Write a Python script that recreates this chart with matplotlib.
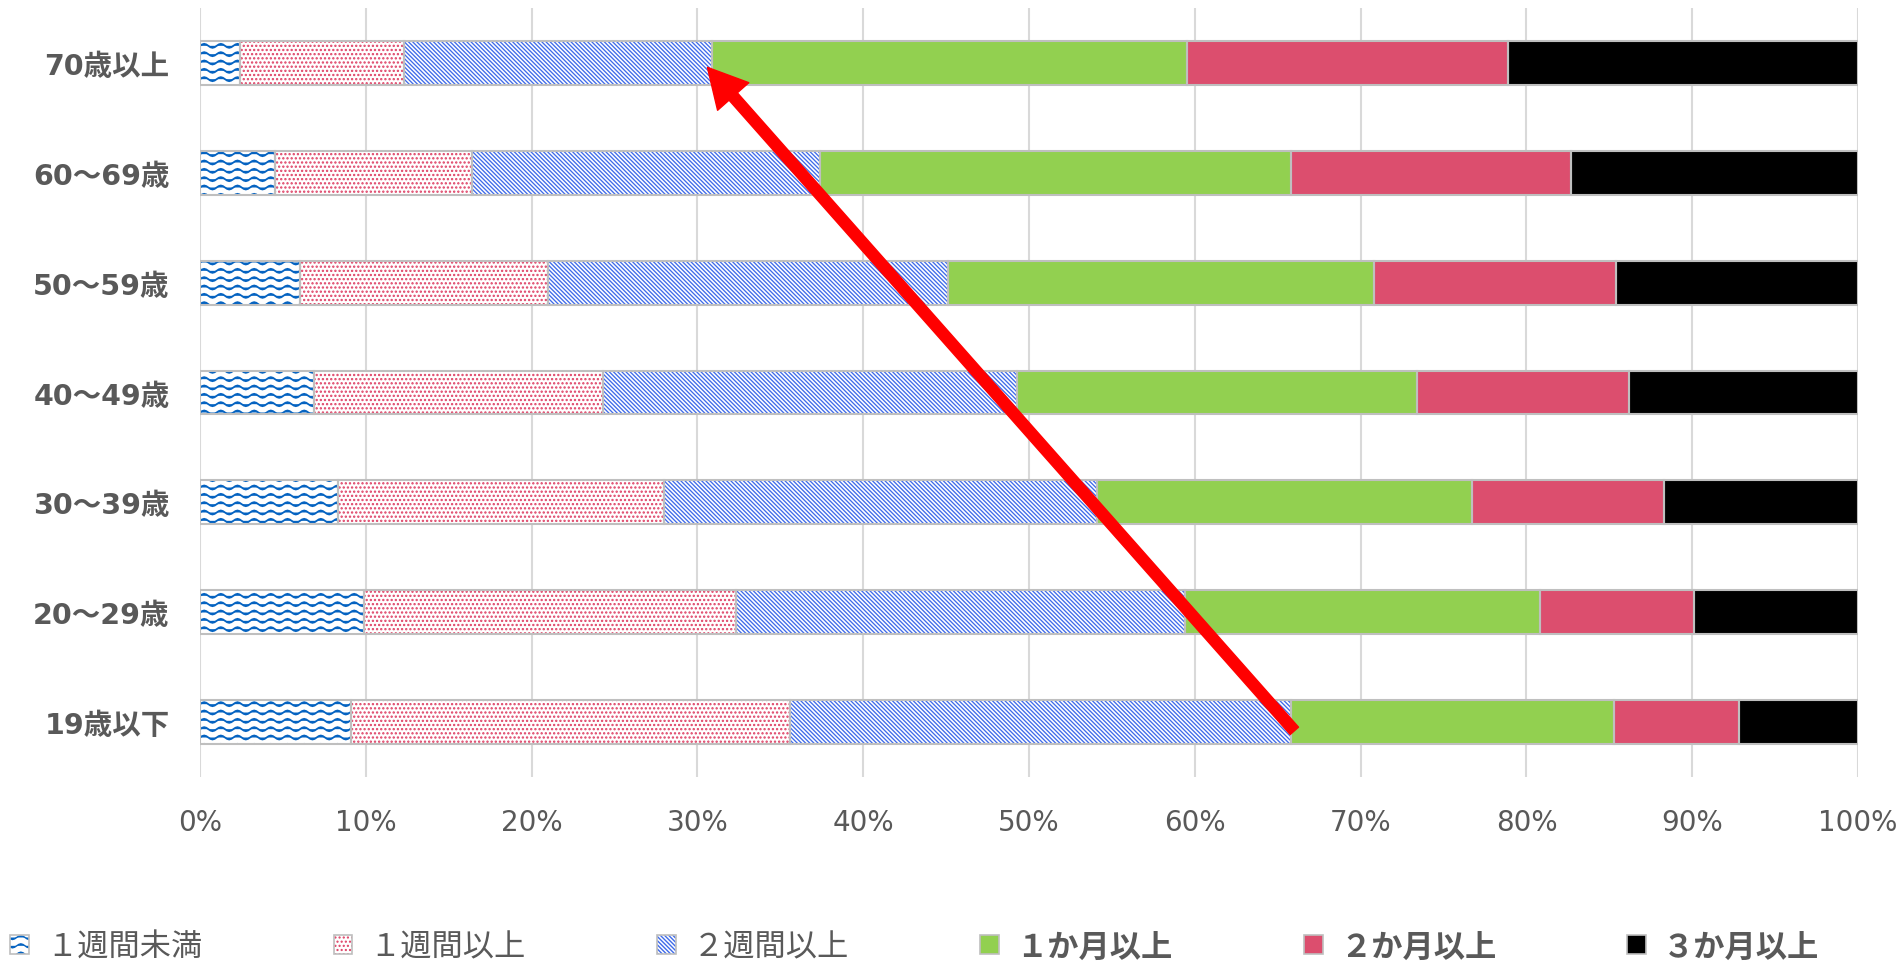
import numpy as np
import matplotlib
matplotlib.use('Agg')
import matplotlib.pyplot as plt
from matplotlib import hatch as mhatch
from matplotlib.path import Path
from matplotlib.patches import Patch

# share of each duration, per age group (bottom to top), %
ages = ['19歳以下', '20～29歳', '30～39歳', '40～49歳', '50～59歳', '60～69歳', '70歳以上']
series = ['１週間未満', '１週間以上', '２週間以上', '１か月以上', '２か月以上', '３か月以上']
w1_under = [9.1, 9.9, 8.3, 6.9, 6.0, 4.5, 2.4]
w1_over = [26.5, 22.4, 19.7, 17.4, 15.0, 11.9, 9.9]
w2_over = [30.2, 27.1, 26.1, 25.0, 24.1, 21.0, 18.6]
m1_over = [19.5, 21.4, 22.6, 24.1, 25.7, 28.4, 28.6]
m2_over = [7.5, 9.3, 11.6, 12.8, 14.6, 16.9, 19.4]
m3_over = [7.2, 9.9, 11.7, 13.8, 14.6, 17.3, 21.1]
xticks = [0, 10, 20, 30, 40, 50, 60, 70, 80, 90, 100]

# arrow: from end of 2週間以上 (19歳以下) to end of 2週間以上 (70歳以上)
arrow_from = (66.0, -0.08)
arrow_to = (30.6, 5.96)


# wavy hatch (takes the place of the 'O' pattern)
class WaveHatch(mhatch.HatchPatternBase):
    def __init__(self, hatch, density):
        self.num_lines = 12 if 'O' in hatch else 0
        self.periods = 6
        self.npts = self.periods * 8 + 1
        self.num_vertices = self.num_lines * self.npts

    def set_vertices_and_codes(self, vertices, codes):
        xs = np.linspace(0.0, 1.0, self.npts)
        wave = 0.02 * np.sin(2 * np.pi * self.periods * xs)
        for i in range(self.num_lines):
            y0 = (i + 0.5) / self.num_lines
            vertices[i * self.npts:(i + 1) * self.npts, 0] = xs
            vertices[i * self.npts:(i + 1) * self.npts, 1] = y0 + wave
            codes[i * self.npts] = Path.MOVETO
            codes[i * self.npts + 1:(i + 1) * self.npts] = Path.LINETO


mhatch._hatch_types = [t for t in mhatch._hatch_types if t is not mhatch.LargeCircles] + [WaveHatch]

gray = '#595959'
edge = '#BFBFBF'
styles = [
    dict(color='white', hatch='O', hc='#0563C1', hlw=1.3),
    dict(color='white', hatch='....', hc='#DE3F64', hlw=1.1),
    dict(color='white', hatch='\\' * 8, hc='#3F6BEA', hlw=0.95),
    dict(color='#92D050', hatch=None, hc='#92D050', hlw=1.0),
    dict(color='#DC4E6E', hatch=None, hc='#DC4E6E', hlw=1.0),
    dict(color='#000000', hatch=None, hc='#000000', hlw=1.0),
]

fig = plt.figure(figsize=(19.02, 9.62), dpi=100)
ax = fig.add_axes([0.1052, 0.1913, 0.8717, 0.7993])

y = np.arange(len(ages))
data = [w1_under, w1_over, w2_over, m1_over, m2_over, m3_over]
left = np.zeros(len(ages))
handles = []
for vals, st in zip(data, styles):
    vals = np.array(vals)
    plt.rcParams['hatch.linewidth'] = st['hlw']
    bars = ax.barh(y, vals, left=left, height=0.4, color=st['color'],
                   edgecolor=st['hc'], linewidth=0, hatch=st['hatch'], zorder=2)
    for b in bars:
        if hasattr(b, 'set_hatch_linewidth'):
            b.set_hatch_linewidth(st['hlw'])
    ax.barh(y, vals, left=left, height=0.4, fill=False, edgecolor=edge,
            linewidth=1.5, zorder=3)
    left += vals
    p1 = Patch(facecolor=st['color'], edgecolor=st['hc'], linewidth=0, hatch=st['hatch'])
    if hasattr(p1, 'set_hatch_linewidth'):
        p1.set_hatch_linewidth(st['hlw'])
    p2 = Patch(fill=False, edgecolor=edge, linewidth=1.2)
    handles.append((p1, p2))

ax.annotate('', xy=arrow_to, xytext=arrow_from,
            arrowprops=dict(facecolor='#FF0000', edgecolor='#FF0000', width=8,
                            headwidth=30, headlength=28, shrink=0), zorder=5)

ax.set_xlim(0, 100)
ax.set_ylim(-0.5, len(ages) - 0.5)
ax.set_xticks(xticks)
ax.set_xticklabels([f'{t}%' for t in xticks], fontsize=20, color=gray,
                   family=['DejaVu Sans'])
ax.set_yticks(y)
ax.set_yticklabels(ages, fontsize=20.5, color=gray, fontweight='bold',
                   family=['DejaVu Sans', 'Noto Sans CJK JP'])
ax.tick_params(axis='x', length=0, pad=22)
ax.tick_params(axis='y', length=0, pad=22)
ax.grid(axis='x', color='#D9D9D9', linewidth=1.5, zorder=0)
ax.set_axisbelow(True)
for s in ax.spines.values():
    s.set_visible(False)

leg = fig.legend(handles, series, loc='center', bbox_to_anchor=(0.481, 0.015),
                 ncol=6, frameon=False, handlelength=0.6, handleheight=0.6,
                 handletextpad=0.55, columnspacing=4.2,
                 prop={'family': ['Noto Sans CJK JP'], 'size': 22.5})
for i, t in enumerate(leg.get_texts()):
    t.set_color(gray)
    if i >= 3:
        t.set_fontweight('bold')

fig.savefig('out.png', dpi=100)
